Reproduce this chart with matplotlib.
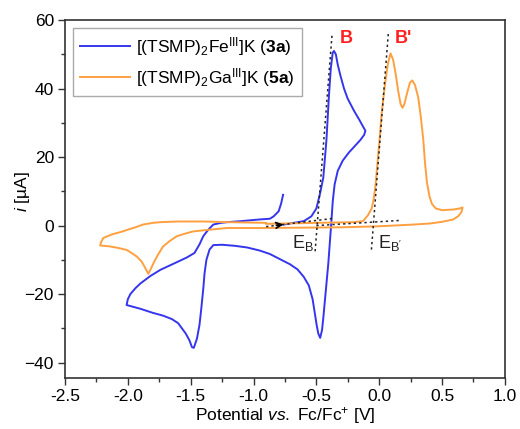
"""Cyclic voltammograms of [(TSMP)2Fe]K (3a) and [(TSMP)2Ga]K (5a)."""
import matplotlib
matplotlib.use("Agg")
import matplotlib.pyplot as plt
from matplotlib.ticker import MultipleLocator

plt.rcParams["font.family"] = ["Liberation Sans", "DejaVu Sans"]
plt.rcParams["mathtext.fontset"] = "custom"
plt.rcParams["mathtext.rm"] = "Liberation Sans"
plt.rcParams["mathtext.it"] = "Liberation Sans:italic"
plt.rcParams["mathtext.bf"] = "Liberation Sans:bold"

# Fe complex (3a): potential [V], current [uA]
fe_x = [-0.76, -0.68, -0.60, -0.54, -0.50, -0.47, -0.445, -0.42, -0.40, -0.385,
        -0.37, -0.36, -0.345, -0.33, -0.31, -0.28, -0.25, -0.20, -0.16, -0.13,
        -0.11, -0.12, -0.15, -0.20, -0.24, -0.29, -0.33, -0.355, -0.37, -0.38,
        -0.395, -0.405, -0.42, -0.432, -0.445, -0.455, -0.47, -0.485, -0.498, -0.515,
        -0.53, -0.56, -0.60, -0.65, -0.71, -0.79, -0.87, -0.95, -1.05, -1.15,
        -1.25, -1.32, -1.35, -1.375, -1.39, -1.40, -1.415, -1.43, -1.45, -1.475,
        -1.49, -1.51, -1.54, -1.60, -1.65, -1.72, -1.80, -1.90, -1.97, -2.01,
        -2.00, -1.98, -1.94, -1.90, -1.82, -1.74, -1.64, -1.53, -1.47, -1.43,
        -1.40, -1.36, -1.32, -1.26, -1.21, -1.10, -0.95, -0.87, -0.84, -0.80,
        -0.78, -0.765]
fe_y = [0.3, 0.8, 1.3, 2.7, 5.0, 9.5, 14.0, 25.0, 38.0, 46.0,
        50.5, 51.0, 50.0, 47.0, 44.0, 40.0, 37.0, 33.5, 31.0, 29.0,
        27.7, 26.5, 25.0, 23.0, 21.4, 19.0, 16.0, 12.0, 7.0, 1.5,
        -6.0, -11.0, -17.0, -21.8, -27.0, -30.5, -32.8, -31.5, -29.0, -25.0,
        -21.5, -17.5, -15.0, -12.8, -11.3, -9.8, -8.3, -7.3, -6.4, -5.9,
        -5.6, -5.7, -7.0, -10.0, -14.0, -18.5, -24.0, -29.0, -33.0, -35.7,
        -35.5, -33.5, -31.5, -28.5, -27.3, -26.3, -25.5, -24.3, -23.6, -23.2,
        -21.5, -20.0, -18.3, -16.9, -14.7, -12.9, -11.2, -9.3, -8.0, -5.5,
        -3.1, -1.2, 0.3, 0.8, 1.0, 1.3, 1.8, 2.0, 2.7, 4.2,
        6.5, 9.0]

# Ga complex (5a)
ga_x = [-0.90, -0.50, -0.20, -0.13, -0.09, -0.06, -0.045, -0.03, 0.00, 0.02,
        0.045, 0.07, 0.09, 0.11, 0.13, 0.15, 0.17, 0.185, 0.20, 0.22,
        0.245, 0.263, 0.285, 0.31, 0.33, 0.35, 0.365, 0.38, 0.40, 0.42,
        0.45, 0.50, 0.59, 0.64, 0.663, 0.655, 0.63, 0.59, 0.50, 0.40,
        0.27, 0.00, -0.30, -0.60, -0.95, -1.21, -1.35, -1.48, -1.55, -1.61,
        -1.67, -1.72, -1.76, -1.79, -1.815, -1.837, -1.86, -1.89, -1.93, -1.97,
        -2.01, -2.08, -2.14, -2.22, -2.215, -2.195, -2.12, -2.05, -2.00, -1.94,
        -1.88, -1.80, -1.74, -1.60, -1.40, -1.20, -0.90]
ga_y = [0.5, 0.8, 1.0, 1.3, 3.0, 5.0, 7.5, 11.6, 24.0, 33.0,
        41.0, 47.5, 50.3, 48.5, 44.5, 39.5, 35.5, 34.4, 35.5, 38.5,
        41.8, 42.4, 41.0, 37.5, 32.0, 25.3, 18.0, 12.5, 8.5, 6.3,
        5.0, 4.5, 4.7, 5.0, 5.3, 4.0, 2.8, 1.8, 1.1, 0.6,
        0.3, -0.2, -0.5, -0.6, -0.7, -0.7, -1.2, -1.7, -2.4, -3.1,
        -4.6, -6.1, -8.5, -10.5, -12.5, -14.1, -12.5, -10.5, -9.0, -8.0,
        -7.1, -6.5, -6.1, -5.8, -5.0, -3.6, -2.5, -1.8, -1.2, -0.5,
        0.3, 0.8, 1.0, 1.2, 1.2, 1.0, 0.8]

# tangent constructions for onset potentials
b_tan_x = [-0.51, -0.375]
b_tan_y = [-7.5, 56.0]
b_base_x = [-0.90, -0.366]
b_base_y = [-0.3, 2.1]
bp_tan_x = [-0.062, 0.072]
bp_tan_y = [-7.0, 56.0]
bp_base_x = [-0.50, 0.165]
bp_base_y = [0.0, 1.5]

fe_color = "#3535ee"
ga_color = "#ffa040"

fig = plt.figure(figsize=(5.2, 4.29), dpi=100)
ax = fig.add_axes([0.125, 0.119, 0.846, 0.834])

ax.plot(fe_x, fe_y, color=fe_color, lw=1.4,
        label=r"[(TSMP)$_2$Fe$^{\mathrm{III}}$]K ($\mathbf{3a}$)")
ax.plot(ga_x, ga_y, color=ga_color, lw=1.4,
        label=r"[(TSMP)$_2$Ga$^{\mathrm{III}}$]K ($\mathbf{5a}$)")

dot = dict(color="#222222", lw=1.1, ls=(0, (1.5, 2)))
ax.plot(b_tan_x, b_tan_y, **dot)
ax.plot(b_base_x, b_base_y, **dot)
ax.plot(bp_tan_x, bp_tan_y, **dot)
ax.plot(bp_base_x, bp_base_y, **dot)

ax.annotate("", xy=(-0.74, 0.4), xytext=(-0.84, 0.0),
            arrowprops=dict(arrowstyle="->", color="black", lw=1.3))

ax.text(-0.265, 54.7, "B", color="#ff2020", fontsize=13, fontweight="bold",
        ha="center", va="center")
ax.text(0.19, 54.7, "B'", color="#ff2020", fontsize=13, fontweight="bold",
        ha="center", va="center")
ax.text(-0.607, -5.0, r"E$_\mathrm{B}$", fontsize=13, ha="center", va="center",
        color="#222222")
ax.text(0.09, -5.0, r"E$_{\mathrm{B}'}$", fontsize=13, ha="center", va="center",
        color="#222222")

ax.set_xlim(-2.5, 1.0)
ax.set_ylim(-44.5, 60)
ax.xaxis.set_major_locator(MultipleLocator(0.5))
ax.xaxis.set_minor_locator(MultipleLocator(0.25))
ax.yaxis.set_major_locator(MultipleLocator(20))
ax.yaxis.set_minor_locator(MultipleLocator(10))
ax.xaxis.set_major_formatter(plt.FuncFormatter(lambda v, p: f"{v:.1f}"))
ax.tick_params(which="both", direction="out", labelsize=12.5, color="#333333")
ax.tick_params(which="major", length=5, width=1, pad=3)
ax.tick_params(which="minor", length=3, width=1)
for s in ax.spines.values():
    s.set_linewidth(1.2)
    s.set_color("#333333")

ax.set_xlabel(r"Potential $\mathit{vs.}$ Fc/Fc$^{+}$ [V]", fontsize=12.5, labelpad=1)
ax.set_ylabel(r"$\mathit{i}$ [µA]", fontsize=12.5)
ax.yaxis.set_label_coords(-0.075, 0.52)

leg = ax.legend(loc="upper left", bbox_to_anchor=(0.018, 0.978), borderaxespad=0,
                fontsize=12.5, fancybox=False, edgecolor="#aaaaaa", handlelength=2.9,
                handletextpad=0.35, labelspacing=0.45, framealpha=1)
leg.get_frame().set_linewidth(1.0)

fig.savefig("out.png", dpi=100)
